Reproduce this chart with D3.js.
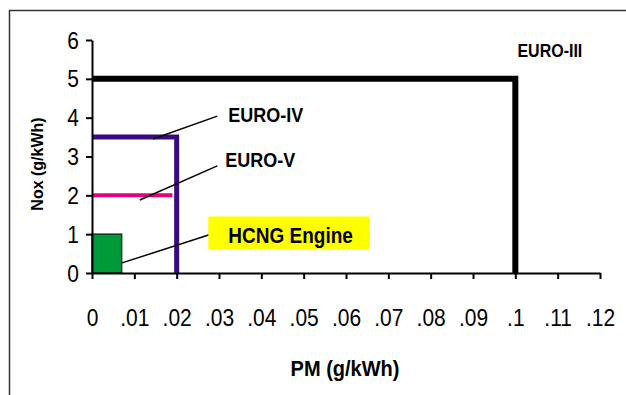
<!DOCTYPE html>
<html>
<head>
<meta charset="utf-8">
<script src="https://cdn.jsdelivr.net/npm/d3@7"></script>
<style>
  html, body { margin: 0; padding: 0; background: #fff; }
  svg { display: block; }
  text { font-family: "Liberation Sans", Arial, sans-serif; fill: #000; }
</style>
</head>
<body>
<svg id="chart" width="626" height="395"></svg>
<script>
// Emission limits: PM (g/kWh) vs NOx (g/kWh)
const standards = ["EURO-III", "EURO-IV", "EURO-V"];
const pmLimits  = [0.10, 0.02, 0.02];
const noxLimits = [5.0, 3.5, 2.0];
const colors    = ["#000000", "#3a0a80", "#e6007e"];
const widths    = [6, 5, 4];
const drawVertical = [true, true, false];

// HCNG engine result box
const hcngPM  = 0.007;
const hcngNOx = 1.0;

const xTicks = [0, 0.01, 0.02, 0.03, 0.04, 0.05, 0.06, 0.07, 0.08, 0.09, 0.1, 0.11, 0.12];
const xTickLabels = ["0", ".01", ".02", ".03", ".04", ".05", ".06", ".07", ".08", ".09", ".1", ".11", ".12"];
const yTicks = [0, 1, 2, 3, 4, 5, 6];

// Callout anchors (data units)
const calloutNames = ["EURO-IV", "EURO-V", "HCNG Engine"];
const calloutLabel = [[0.0322, 3.9], [0.0315, 2.72], [0.0322, 0.76]];
const calloutFrom  = [[0.0144, 3.45], [0.0113, 1.88], [0.0071, 0.26]];
const calloutTo    = [[0.0296, 4.04], [0.0296, 2.76], [0.0290, 1.03]];
const calloutSize  = [18, 18, 19];

const svg = d3.select("#chart");
const x = d3.scaleLinear().domain([0, 0.12]).range([92, 600]);
const y = d3.scaleLinear().domain([0, 6]).range([273, 40]);

// outer frame (top and left edges)
svg.append("path")
  .attr("d", "M9.5,400 V10.5 H640")
  .attr("fill", "none").attr("stroke", "#333").attr("stroke-width", 1.5);

// HCNG box
svg.append("rect")
  .attr("x", x(0)).attr("y", y(hcngNOx))
  .attr("width", x(hcngPM) - x(0)).attr("height", y(0) - y(hcngNOx))
  .attr("fill", "#00993a").attr("stroke", "#0a3a14").attr("stroke-width", 1.5);

// Standard limit lines
standards.forEach((s, i) => {
  const pts = drawVertical[i]
    ? [[0, noxLimits[i]], [pmLimits[i], noxLimits[i]], [pmLimits[i], 0]]
    : [[0, noxLimits[i]], [pmLimits[i] - 0.001, noxLimits[i]]];
  svg.append("path")
    .attr("d", d3.line().x(d => x(d[0])).y(d => y(d[1]))(pts))
    .attr("fill", "none").attr("stroke", colors[i]).attr("stroke-width", widths[i])
    .attr("stroke-linejoin", "miter");
});

// Axes
const xAxis = d3.axisBottom(x).tickValues(xTicks).tickFormat((d, i) => xTickLabels[i]).tickSize(6).tickSizeOuter(0);
const gx = svg.append("g").attr("transform", `translate(0,${y(0)})`).call(xAxis);
gx.select(".domain").attr("stroke", "#000").attr("stroke-width", 2);
gx.selectAll(".tick line").attr("stroke", "#000").attr("stroke-width", 2);
gx.selectAll(".tick text")
  .attr("font-size", 21).attr("font-family", "Liberation Sans, Arial, sans-serif")
  .attr("y", 0).attr("dy", 0)
  .attr("transform", "translate(0,53) scale(1,1.12)");

const yAxis = d3.axisLeft(y).tickValues(yTicks).tickFormat(d3.format("d")).tickSize(6).tickSizeOuter(0);
const gy = svg.append("g").attr("transform", `translate(${x(0)},0)`).call(yAxis);
gy.select(".domain").attr("stroke", "#000").attr("stroke-width", 2);
gy.selectAll(".tick line").attr("stroke", "#000").attr("stroke-width", 2);
gy.selectAll(".tick text")
  .attr("font-size", 21).attr("font-family", "Liberation Sans, Arial, sans-serif")
  .attr("x", 0).attr("dy", 0)
  .attr("transform", "translate(-13,8) scale(1,1.12)");

// Axis titles
svg.append("text").attr("transform", "translate(345,376) scale(1,1.1)").attr("text-anchor", "middle")
  .attr("font-size", 20).attr("font-weight", "bold").text("PM (g/kWh)");
svg.append("text").attr("transform", "translate(43,164) rotate(-90)").attr("text-anchor", "middle")
  .attr("font-size", 16).attr("font-weight", "bold").text("Nox (g/kWh)");

// EURO-III label
svg.append("text")
  .attr("transform", `translate(${x(0.1005)},${y(5.55)}) scale(1,1.15)`)
  .attr("font-size", 16).attr("font-weight", "bold").text(standards[0]);

// Callouts
calloutNames.forEach((name, i) => {
  svg.append("line")
    .attr("x1", x(calloutFrom[i][0])).attr("y1", y(calloutFrom[i][1]))
    .attr("x2", x(calloutTo[i][0])).attr("y2", y(calloutTo[i][1]))
    .attr("stroke", "#000").attr("stroke-width", 1.5);
  if (i === 2) {
    // yellow highlight behind the HCNG label
    svg.append("rect")
      .attr("x", x(calloutLabel[i][0]) - 20).attr("y", y(calloutLabel[i][1]) - 27)
      .attr("width", 161).attr("height", 33)
      .attr("fill", "#ffff00");
  }
  svg.append("text")
    .attr("transform", `translate(${x(calloutLabel[i][0])},${y(calloutLabel[i][1])}) scale(1,1.15)`)
    .attr("font-size", calloutSize[i]).attr("font-weight", "bold").text(name);
});
</script>
</body>
</html>
